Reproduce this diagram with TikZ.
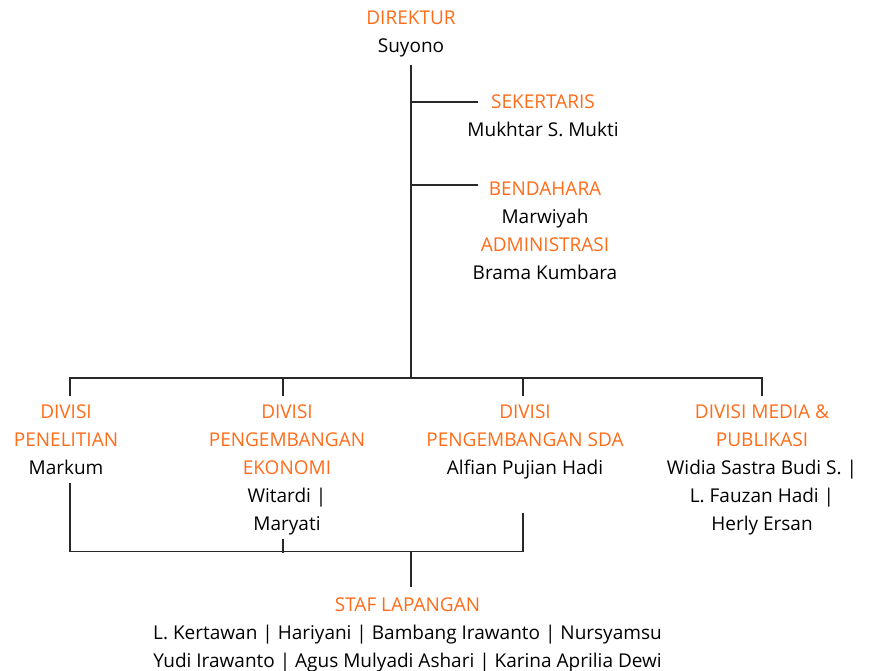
\documentclass[tikz,border=0pt]{standalone}
\usepackage{fontspec}
\setmainfont{Open Sans}
\definecolor{org}{RGB}{255,108,25}
\definecolor{ln}{RGB}{40,40,40}
\newcommand\ttl[1]{\textcolor{org}{#1}}
\begin{document}
\begin{tikzpicture}[x=1pt,y=-1pt,
  blk/.style={align=center, anchor=north, inner sep=0pt, outer sep=0pt,
    font=\fontsize{19}{28}\selectfont, text=black},
  conn/.style={draw=ln, line width=1.4pt}]
\useasboundingbox (0,0) rectangle (870,670);
% nodes
\node[blk] (dir) at (411,4.4) {\strut\ttl{DIREKTUR}\\Suyono\strut};
\node[blk] (sek) at (543,88.4) {\strut\ttl{SEKERTARIS}\\Mukhtar S. Mukti\strut};
\node[blk] (ben) at (545,175.4) {\strut\ttl{BENDAHARA}\\Marwiyah\\\ttl{ADMINISTRASI}\\Brama Kumbara\strut};
\node[blk] (d1) at (66,398.9) {\strut\ttl{DIVISI}\\\ttl{PENELITIAN}\\Markum\strut};
\node[blk] (d2) at (287,398.9) {\strut\ttl{DIVISI}\\\ttl{PENGEMBANGAN}\\\ttl{EKONOMI}\\Witardi |\\Maryati\strut};
\node[blk] (d3) at (525,398.9) {\strut\ttl{DIVISI}\\\ttl{PENGEMBANGAN SDA}\\Alfian Pujian Hadi\strut};
\node[blk] (d4) at (762,398.9) {\strut\ttl{DIVISI MEDIA \&}\\\ttl{PUBLIKASI}\\Widia Sastra Budi S. |\\L. Fauzan Hadi |\\Herly Ersan\strut};
\node[blk] (staf) at (407.5,591.4) {\strut\ttl{STAF LAPANGAN}\\L. Kertawan | Hariyani | Bambang Irawanto | Nursyamsu\\Yudi Irawanto | Agus Mulyadi Ashari | Karina Aprilia Dewi\strut};
% junctions
\coordinate (hub) at (411,378);
\coordinate (bh) at (411,552);
\coordinate (sekJ) at ([shift={(11,13.6)}]sek.north west);
\coordinate (benJ) at ([shift={(5,9.6)}]ben.north west);
% spine and branches
\draw[conn] ([shift={(0,4.6)}]dir.south) -- (hub);
\draw[conn] (hub |- sekJ) -- (sekJ);
\draw[conn] (hub |- benJ) -- (benJ);
% division bar
\draw[conn] ([shift={(4,-2.9)}]d1.north) -- ++(0,-18) -| ([shift={(0,-2.9)}]d4.north);
\draw[conn] ([shift={(-4,-2.9)}]d2.north) -- ++(0,-18);
\draw[conn] ([shift={(-2,-2.9)}]d3.north) -- ++(0,-18);
% bottom bar
\draw[conn] ([shift={(4,0)}]d1.south) |- ([shift={(-2,68.6)}]d3.south) -- ([shift={(-2,29.6)}]d3.south);
\draw[conn] ([shift={(-4,0)}]d2.south) -- ++(0,13.6);
\draw[conn] (bh) -- ([shift={(3.5,-4.7)}]staf.north);
\end{tikzpicture}
\end{document}
